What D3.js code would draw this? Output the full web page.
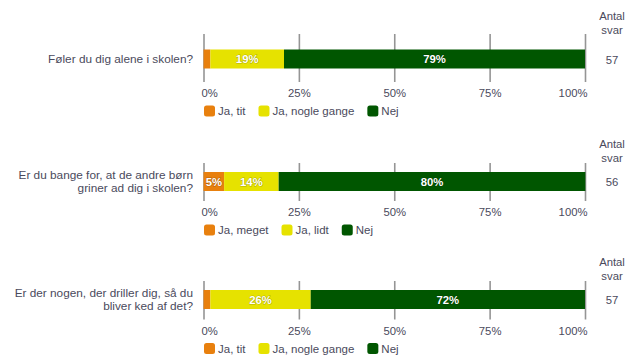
<!DOCTYPE html>
<html>
<head>
<meta charset="utf-8">
<script src="https://cdn.jsdelivr.net/npm/d3@7"></script>
<style>
  html, body { margin: 0; padding: 0; background: #fff; }
  svg { display: block; font-family: "Liberation Sans", Arial, sans-serif; }
</style>
</head>
<body>
<svg id="chart" width="627" height="356"></svg>
<script>
// ---- data ----
const questions = [
  ["Føler du dig alene i skolen?"],
  ["Er du bange for, at de andre børn", "griner ad dig i skolen?"],
  ["Er der nogen, der driller dig, så du", "bliver ked af det?"]
];
const seriesNames1 = ["Ja, tit", "Ja, nogle gange", "Nej"];
const seriesNames2 = ["Ja, meget", "Ja, lidt", "Nej"];
const seriesNames3 = ["Ja, tit", "Ja, nogle gange", "Nej"];
const values1 = [1.8, 19.3, 78.9];
const values2 = [5.4, 14.3, 80.4];
const values3 = [1.8, 26.3, 71.9];
const answerCounts = [57, 56, 57];
const tickValues = [0, 25, 50, 75, 100];
const tickLabels = ["0%", "25%", "50%", "75%", "100%"];
const countHeader = ["Antal", "svar"];

// ---- styles / layout ----
const colors = ["#e8800e", "#e6e200", "#005600"];
const textColor = "#4a4a5c";
const layout = [
  { cy: 59,    tickTop: 34,  tickBot: 82,    hdr: 16 },
  { cy: 181.5, tickTop: 163, tickBot: 201,   hdr: 144 },
  { cy: 299.5, tickTop: 281, tickBot: 319.5, hdr: 262 }
];
const panels = [
  { q: questions[0], names: seriesNames1, vals: values1, n: answerCounts[0] },
  { q: questions[1], names: seriesNames2, vals: values2, n: answerCounts[1] },
  { q: questions[2], names: seriesNames3, vals: values3, n: answerCounts[2] }
];

const svg = d3.select("#chart");
const x = d3.scaleLinear().domain([0, 100]).range([203.5, 585]);
const barH = 19;
const fs = 11.3;

panels.forEach((p, i) => {
  const L = layout[i];
  const g = svg.append("g");

  // grid/axis
  const axis = d3.axisBottom(x)
    .tickValues(tickValues)
    .tickFormat((d, k) => tickLabels[k])
    .tickSize(-(L.tickBot - L.tickTop))
    .tickPadding(7);
  const ax = g.append("g")
    .attr("transform", `translate(0,${L.tickBot})`)
    .call(axis);
  ax.select(".domain").remove();
  ax.selectAll(".tick line").attr("stroke", "#959595").attr("stroke-width", 1.6);
  ax.selectAll(".tick text")
    .attr("fill", textColor)
    .attr("font-size", fs)
    .attr("font-family", "Liberation Sans, Arial, sans-serif")
    .attr("text-anchor", (d, k) => k === 0 ? "start" : (k === tickValues.length - 1 ? "end" : "middle"))
    .attr("dx", (d, k) => k === 0 ? -2.5 : (k === tickValues.length - 1 ? 2 : 0));

  // stacked bars
  const stack = [];
  let acc = 0;
  p.vals.forEach((v, k) => { stack.push({ x0: acc, x1: acc + v, v, k }); acc += v; });
  g.selectAll("rect.seg").data(stack).enter().append("rect")
    .attr("class", "seg")
    .attr("x", d => x(d.x0))
    .attr("width", d => x(d.x1) - x(d.x0))
    .attr("y", L.cy - barH / 2)
    .attr("height", barH)
    .attr("fill", d => colors[d.k]);

  g.selectAll("text.lbl").data(stack.filter(d => d.v >= 4)).enter().append("text")
    .attr("class", "lbl")
    .attr("x", d => (x(d.x0) + x(d.x1)) / 2)
    .attr("y", L.cy + 4)
    .attr("text-anchor", "middle")
    .attr("font-size", fs)
    .attr("font-weight", "bold")
    .attr("fill", "#fff")
    .attr("stroke", "rgba(0,0,0,0.25)")
    .attr("stroke-width", 1)
    .attr("paint-order", "stroke")
    .text(d => Math.round(d.v) + "%");

  // question label
  const lh = 13.4;
  const qy0 = L.cy + 4 - (p.q.length - 1) * lh / 2;
  g.selectAll("text.q").data(p.q).enter().append("text")
    .attr("class", "q")
    .attr("x", 193)
    .attr("y", (d, k) => qy0 + k * lh)
    .attr("text-anchor", "end")
    .attr("font-size", 11.8)
    .attr("fill", textColor)
    .text(d => d);

  // count header + count
  g.selectAll("text.h").data(countHeader).enter().append("text")
    .attr("class", "h")
    .attr("x", 612)
    .attr("y", (d, k) => L.hdr + 4 + k * 13.6)
    .attr("text-anchor", "middle")
    .attr("font-size", fs)
    .attr("fill", textColor)
    .text(d => d);
  g.append("text")
    .attr("x", 612)
    .attr("y", L.cy + 4.5)
    .attr("text-anchor", "middle")
    .attr("font-size", fs)
    .attr("fill", textColor)
    .text(p.n);

  // legend
  const ly = L.tickBot + 29;
  let lx = 204;
  p.names.forEach((name, k) => {
    g.append("rect")
      .attr("x", lx).attr("y", ly - 5.5)
      .attr("width", 11).attr("height", 11)
      .attr("rx", 2.5)
      .attr("fill", colors[k]);
    const t = g.append("text")
      .attr("x", lx + 14)
      .attr("y", ly + 4)
      .attr("font-size", 11.5)
      .attr("fill", textColor)
      .text(name);
    lx += 14 + t.node().getComputedTextLength() + 13;
  });
});
</script>
</body>
</html>
